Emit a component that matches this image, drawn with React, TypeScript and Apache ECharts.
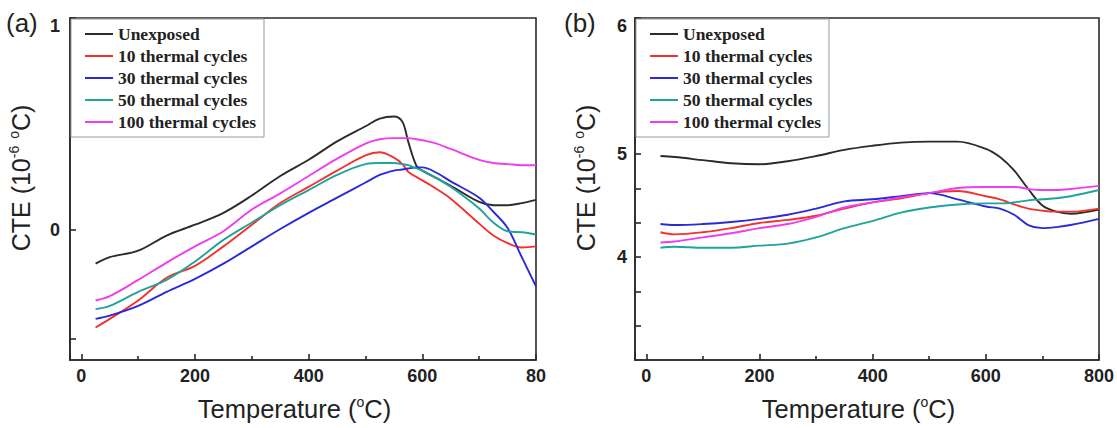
import React, { useEffect, useRef } from 'react';
import * as echarts from 'echarts';

const seriesNames = ['Unexposed', '10 thermal cycles', '30 thermal cycles', '50 thermal cycles', '100 thermal cycles'];
const seriesColors = ['#2b2b2b', '#f2322c', '#2a2ad8', '#1fa39b', '#ee3cee'];

// Panel (a)
const tempA = [25, 50, 100, 150, 200, 250, 300, 350, 400, 450, 500, 525, 550, 565, 575, 590, 600, 625, 650, 700, 725, 750, 775, 800];
const unexposedA = [-0.31, -0.25, -0.19, -0.05, 0.05, 0.16, 0.32, 0.5, 0.65, 0.82, 0.96, 1.03, 1.05, 1.0, 0.82, 0.59, 0.55, 0.48, 0.41, 0.26, 0.23, 0.23, 0.25, 0.28];
const cycles10A = [-0.9, -0.82, -0.65, -0.44, -0.33, -0.15, 0.05, 0.25, 0.4, 0.55, 0.69, 0.72, 0.67, 0.61, 0.54, 0.49, 0.46, 0.38, 0.29, 0.06, -0.05, -0.12, -0.16, -0.15];
const cycles30A = [-0.82, -0.79, -0.7, -0.57, -0.45, -0.31, -0.15, 0.01, 0.16, 0.3, 0.44, 0.51, 0.55, 0.56, 0.57, 0.58, 0.58, 0.53, 0.45, 0.3, 0.17, 0.02, -0.25, -0.52];
const cycles50A = [-0.73, -0.7, -0.57, -0.46, -0.29, -0.09, 0.07, 0.23, 0.37, 0.51, 0.61, 0.62, 0.62, 0.61, 0.6, 0.57, 0.55, 0.48, 0.4, 0.2, 0.07, -0.01, -0.02, -0.04];
const cycles100A = [-0.65, -0.61, -0.46, -0.3, -0.15, -0.01, 0.19, 0.34, 0.5, 0.66, 0.8, 0.84, 0.85, 0.85, 0.85, 0.84, 0.83, 0.8, 0.75, 0.65, 0.62, 0.61, 0.6, 0.6];

// Panel (b)
const tempB = [25, 50, 100, 150, 200, 250, 300, 350, 400, 450, 500, 550, 600, 625, 650, 675, 700, 725, 750, 800];
const unexposedB = [4.98, 4.97, 4.94, 4.91, 4.9, 4.93, 4.98, 5.04, 5.08, 5.11, 5.12, 5.12, 5.05, 4.97, 4.84, 4.66, 4.5, 4.44, 4.42, 4.46];
const cycles10B = [4.24, 4.22, 4.24, 4.28, 4.33, 4.36, 4.4, 4.47, 4.53, 4.57, 4.62, 4.64, 4.59, 4.56, 4.51, 4.47, 4.45, 4.44, 4.44, 4.47];
const cycles30B = [4.32, 4.31, 4.32, 4.34, 4.37, 4.41, 4.47, 4.54, 4.56, 4.59, 4.62, 4.56, 4.49, 4.47, 4.41, 4.31, 4.28, 4.29, 4.31, 4.37];
const cycles50B = [4.09, 4.1, 4.09, 4.09, 4.11, 4.13, 4.19, 4.28, 4.35, 4.43, 4.48, 4.51, 4.52, 4.52, 4.53, 4.55, 4.56, 4.57, 4.59, 4.65];
const cycles100B = [4.14, 4.15, 4.19, 4.23, 4.28, 4.32, 4.39, 4.48, 4.53, 4.58, 4.62, 4.67, 4.68, 4.68, 4.68, 4.66, 4.65, 4.65, 4.66, 4.69];

const panelATitle = '(a)';
const panelBTitle = '(b)';
const yNameText = 'CTE (10{s|-6} {s|o}C)';
const xNameText = 'Temperature ({s|o}C)';

const AXIS_COLOR = '#2a2a2a';
const TEXT_COLOR = '#222';

function pair(xs: number[], ys: number[]) {
  return xs.map((x, i) => [x, ys[i]]);
}

const nameRich = {
  s: { fontSize: 14, verticalAlign: 'top', fontFamily: 'Liberation Sans', color: TEXT_COLOR, lineHeight: 28 },
};

function makeXAxis(gridIndex: number, lastLabel: string) {
  return {
    type: 'value',
    gridIndex,
    min: -20,
    max: 800,
    splitNumber: 4,
    axisLine: { show: true, onZero: false, lineStyle: { color: AXIS_COLOR, width: 1.6 } },
    axisTick: { show: true, inside: true, length: 6, lineStyle: { color: AXIS_COLOR, width: 1.6 } },
    minorTick: { show: true, splitNumber: 2, length: 4, lineStyle: { color: AXIS_COLOR, width: 1.6 } },
    splitLine: { show: false },
    minorSplitLine: { show: false },
    axisLabel: {
      margin: 7,
      fontSize: 18,
      fontWeight: 'bold',
      fontFamily: 'Liberation Sans',
      color: TEXT_COLOR,
      showMinLabel: false,
      formatter: (v: number) => (v < 0 ? '' : v === 800 ? lastLabel : String(v)),
    },
    name: xNameText,
    nameLocation: 'middle',
    nameGap: 35,
    nameTextStyle: { fontSize: 25.5, fontFamily: 'Liberation Sans', color: TEXT_COLOR, lineHeight: 28, padding: [0, 17, 0, 0], rich: nameRich },
  };
}

function makeYAxis(gridIndex: number, min: number, max: number, extra: any, formatter: (v: number) => string, margin: number) {
  return {
    type: 'value',
    gridIndex,
    min,
    max,
    ...extra,
    axisLine: { show: true, onZero: false, lineStyle: { color: AXIS_COLOR, width: 1.6 } },
    axisTick: { show: true, inside: true, length: 6, lineStyle: { color: AXIS_COLOR, width: 1.6 } },
    splitLine: { show: false },
    axisLabel: {
      margin,
      fontSize: 18,
      fontWeight: 'bold',
      fontFamily: 'Liberation Sans',
      color: TEXT_COLOR,
      showMinLabel: false,
      showMaxLabel: true,
      formatter,
      rich: {
        top: { fontSize: 18, fontWeight: 'bold', fontFamily: 'Liberation Sans', color: TEXT_COLOR, padding: [16, 0, 0, 0] },
      },
    },
    name: yNameText,
    nameLocation: 'middle',
    nameRotate: 90,
    nameGap: 35,
    nameTextStyle: { fontSize: 25, fontFamily: 'Liberation Sans', color: TEXT_COLOR, lineHeight: 28, padding: [0, 0, 0, 22], rich: nameRich },
  };
}

function makeLegend(left: number) {
  return {
    left,
    top: 19,
    orient: 'vertical',
    data: seriesNames,
    backgroundColor: '#fff',
    borderColor: '#9a9a9a',
    borderWidth: 1,
    borderRadius: 0,
    padding: [6, 8, 6, 14],
    itemGap: 4,
    itemWidth: 28,
    itemHeight: 2,
    icon: 'rect',
    selectedMode: false,
    textStyle: { fontFamily: 'Liberation Serif', fontWeight: 'bold', fontSize: 17.5, color: TEXT_COLOR },
  };
}

export default function App() {
  const ref = useRef<HTMLDivElement>(null);

  useEffect(() => {
    if (!ref.current) return;
    const chart = echarts.init(ref.current, null, { renderer: 'svg' });

    const seriesA = [unexposedA, cycles10A, cycles30A, cycles50A, cycles100A];
    const seriesB = [unexposedB, cycles10B, cycles30B, cycles50B, cycles100B];

    const makeSeries = (temps: number[], vals: number[][], idx: number) =>
      vals.map((ys, i) => ({
        type: 'line',
        name: seriesNames[i],
        xAxisIndex: idx,
        yAxisIndex: idx,
        data: pair(temps, ys),
        showSymbol: false,
        symbol: 'none',
        smooth: 0.35,
        lineStyle: { color: seriesColors[i], width: 1.9 },
        itemStyle: { color: seriesColors[i] },
        z: 2 + (i === 0 ? 0 : 1),
      }));

    const yFormatterA = (v: number) => (Math.abs(v) < 1e-6 ? '0' : v > 1.9 ? '{top|1}' : '');
    const yFormatterB = (v: number) =>
      Math.abs(v - 5) < 1e-3 ? '5' : Math.abs(v - 4) < 1e-3 ? '4' : v > 6.3 ? '{top|6}' : '';

    const titleStyle = { fontSize: 26, fontWeight: 'normal', fontFamily: 'Liberation Sans', color: TEXT_COLOR };

    chart.setOption({
      animation: false,
      backgroundColor: '#fff',
      title: [
        { text: panelATitle, left: 6, top: 10, padding: 0, textStyle: titleStyle },
        { text: panelBTitle, left: 564, top: 10, padding: 0, textStyle: titleStyle },
      ],
      legend: [makeLegend(71), makeLegend(636)],
      grid: [
        { left: 70, top: 18, width: 466, height: 347, show: true, borderColor: AXIS_COLOR, borderWidth: 1.6, backgroundColor: 'transparent' },
        { left: 635, top: 18, width: 465, height: 347, show: true, borderColor: AXIS_COLOR, borderWidth: 1.6, backgroundColor: 'transparent' },
      ],
      xAxis: [makeXAxis(0, '80'), makeXAxis(1, '800')],
      yAxis: [
        makeYAxis(0, -1.2, 1.96, { splitNumber: 3 }, yFormatterA, 10),
        makeYAxis(1, 3, 6.32, { interval: 1 / 3 }, yFormatterB, 8),
      ],
      series: [...makeSeries(tempA, seriesA, 0), ...makeSeries(tempB, seriesB, 1)],
    });

    return () => chart.dispose();
  }, []);

  return (
    <div
      ref={ref}
      style={{ position: 'fixed', left: 0, top: 0, width: 1117, height: 428, background: '#fff' }}
    />
  );
}
